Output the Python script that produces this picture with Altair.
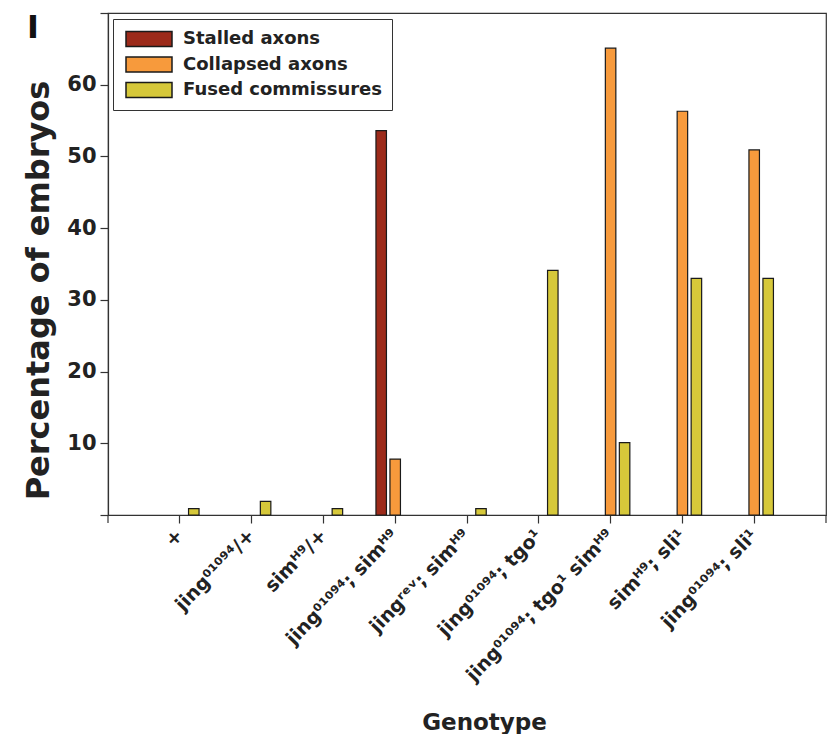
import altair as alt
import pandas as pd

# ---- data ----
genotypes = [
    "+",
    "jing⁰¹⁰⁹⁴/+",
    "simᴴ⁹/+",
    "jing⁰¹⁰⁹⁴; simᴴ⁹",
    "jingʳᵉᵛ; simᴴ⁹",
    "jing⁰¹⁰⁹⁴; tgo¹",
    "jing⁰¹⁰⁹⁴; tgo¹ simᴴ⁹",
    "simᴴ⁹; sli¹",
    "jing⁰¹⁰⁹⁴; sli¹",
]
series = ["Stalled axons", "Collapsed axons", "Fused commissures"]
stalled = [None, None, None, 53.6, None, None, None, None, None]
collapsed = [None, None, None, 7.8, None, None, 65.1, 56.3, 50.9]
fused = [0.9, 1.9, 0.9, None, 0.9, 34.1, 10.1, 33.0, 33.0]
colors = ["#9c2a1a", "#f79a3c", "#d6c83a"]
y_ticks = [0, 10, 20, 30, 40, 50, 60, 70]

rows = []
for name, vals in zip(series, [stalled, collapsed, fused]):
    for g, v in zip(genotypes, vals):
        if v is not None:
            rows.append({"Genotype": g, "Series": name, "Percentage": v})
df = pd.DataFrame(rows)

W, H = 718, 502
FONT = "DejaVu Sans"
AX = "#333333"

bars = alt.Chart(df).mark_bar(stroke="#1a1a1a", strokeWidth=1.2).encode(
    x=alt.X(
        "Genotype:N",
        sort=genotypes,
        scale=alt.Scale(domain=genotypes, paddingInner=0.464, paddingOuter=0.732),
        axis=alt.Axis(
            title="Genotype",
            labelAngle=-46,
            labelFont=FONT,
            labelFontSize=19,
            labelFontWeight="bold",
            labelColor="#222222",
            labelPadding=9,
            labelLimit=400,
            tickSize=8,
            titleFont=FONT,
            titleFontSize=23,
            titleFontWeight="bold",
            titleColor="#222222",
            titleX=376,
            titleY=214,
            titleBaseline="alphabetic",
            titleAlign="center",
        ),
    ),
    xOffset=alt.XOffset(
        "Series:N",
        sort=series,
        scale=alt.Scale(domain=series, paddingInner=0.25, paddingOuter=0),
    ),
    y=alt.Y(
        "Percentage:Q",
        scale=alt.Scale(domain=[0, 70], nice=False),
        axis=alt.Axis(
            title="Percentage of embryos",
            values=y_ticks,
            labelExpr="datum.value == 0 || datum.value == 70 ? '' : datum.label",
            labelFont=FONT,
            labelFontSize=21,
            labelFontWeight="bold",
            labelColor="#222222",
            labelPadding=4,
            tickSize=8,
            titleFont=FONT,
            titleFontSize=32,
            titleFontWeight="bold",
            titleColor="#222222",
            titleX=-53,
            titleY=277,
            titleBaseline="bottom",
            titleAlign="center",
        ),
    ),
    color=alt.Color(
        "Series:N",
        sort=series,
        scale=alt.Scale(domain=series, range=colors),
        legend=alt.Legend(
            title=None,
            orient="none",
            legendX=5,
            legendY=6,
            direction="vertical",
            symbolType="M-1,-0.33H1V0.33H-1Z",
            symbolSize=2116,
            symbolStrokeColor="#1a1a1a",
            symbolStrokeWidth=1.5,
            symbolOpacity=1,
            symbolOffset=3,
            labelFont=FONT,
            labelFontSize=18,
            labelFontWeight="bold",
            labelColor="#222222",
            labelOffset=10,
            labelLimit=400,
            clipHeight=22,
            rowPadding=3.5,
            fillColor="white",
            strokeColor=AX,
            padding=9,
        ),
    ),
)

tick_left = alt.Chart(pd.DataFrame({"a": [0]})).mark_rule(color=AX, strokeWidth=1.2).encode(
    x=alt.value(0), y=alt.value(H), y2=alt.value(H + 8)
)
tick_right = alt.Chart(pd.DataFrame({"a": [0]})).mark_rule(color=AX, strokeWidth=1.2).encode(
    x=alt.value(W), y=alt.value(H), y2=alt.value(H + 8)
)
letter = alt.Chart(pd.DataFrame({"a": [0]})).mark_text(
    font=FONT, fontSize=32, fontWeight="bold", color="#111111", align="center", baseline="alphabetic"
).encode(x=alt.value(-75), y=alt.value(25), text=alt.value("I"))

chart = (
    alt.layer(bars, tick_left, tick_right, letter)
    .properties(
        width=W,
        height=H,
        autosize=alt.AutoSizeParams(type="none"),
        padding={"left": 100, "top": 5, "right": 1, "bottom": 219},
        background="white",
    )
    .configure_view(stroke=AX, strokeWidth=1.2)
    .configure_axis(grid=False, domainColor=AX, tickColor=AX, domainWidth=1.2, tickWidth=1.2)
)

chart.save("out.html", embed_options={"renderer": "svg", "actions": False})
